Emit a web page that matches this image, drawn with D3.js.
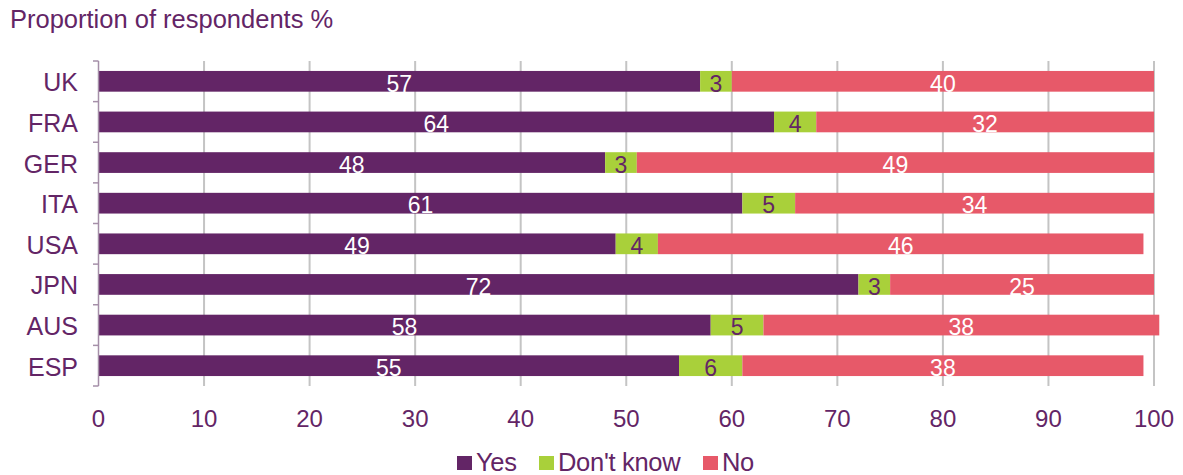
<!DOCTYPE html>
<html>
<head>
<meta charset="utf-8">
<script src="https://cdn.jsdelivr.net/npm/d3@7"></script>
<style>
  body { margin: 0; background: #fff; }
  svg text { font-family: "Liberation Sans", Arial, sans-serif; }
</style>
</head>
<body>
<svg id="chart"></svg>
<script>
// chart data
var countries = ["UK", "FRA", "GER", "ITA", "USA", "JPN", "AUS", "ESP"];
var yes = [57, 64, 48, 61, 49, 72, 58, 55];
var dontKnow = [3, 4, 3, 5, 4, 3, 5, 6];
var no = [40, 32, 49, 34, 46, 25, 37.5, 38];
var xTicks = [0, 10, 20, 30, 40, 50, 60, 70, 80, 90, 100];
var seriesNames = ["Yes", "Don't know", "No"];

var width = 1183, height = 475;
var purple = "#632566", green = "#a9d03a", red = "#e75969";
var colors = [purple, green, red];
var labelColors = ["#fff", purple, "#fff"];
var textColor = "#632566";

var svg = d3.select("#chart").attr("width", width).attr("height", height);

var x = d3.scaleLinear().domain([0, 100]).range([98.5, 1154]);
var y = d3.scaleBand().domain(countries).range([61, 386]).paddingInner(0.49).paddingOuter(0.245);

// title
svg.append("text")
    .attr("x", 10).attr("y", 28)
    .attr("fill", textColor)
    .style("font-size", "25.5px")
    .text("Proportion of respondents %");

// grid lines
svg.append("g").selectAll("line")
    .data(xTicks.filter(function (d) { return d > 0; }))
    .enter().append("line")
    .attr("x1", function (d) { return x(d); })
    .attr("x2", function (d) { return x(d); })
    .attr("y1", 61).attr("y2", 386)
    .attr("stroke", "#c4c4c4")
    .attr("stroke-width", 2);

// stacked data
var rows = countries.map(function (c, i) {
    var vals = [yes[i], dontKnow[i], no[i]];
    var start = 0;
    return vals.map(function (v, k) {
        var seg = { country: c, k: k, v: v, x0: start, x1: start + v };
        start += v;
        return seg;
    });
});
var segs = [].concat.apply([], rows);

svg.append("g").selectAll("rect")
    .data(segs)
    .enter().append("rect")
    .attr("x", function (d) { return x(d.x0); })
    .attr("y", function (d) { return y(d.country); })
    .attr("width", function (d) { return x(d.x1) - x(d.x0); })
    .attr("height", y.bandwidth())
    .attr("fill", function (d) { return colors[d.k]; });

svg.append("g").selectAll("text")
    .data(segs)
    .enter().append("text")
    .attr("x", function (d) { return x((d.x0 + d.x1) / 2); })
    .attr("y", function (d) { return y(d.country) + y.bandwidth() / 2 + 2; })
    .attr("dy", "0.36em")
    .attr("text-anchor", "middle")
    .attr("fill", function (d) { return labelColors[d.k]; })
    .style("font-size", "23px")
    .text(function (d) { return Math.round(d.v); });

// left axis with ticks on band boundaries
var axisColor = "#a58fa8";
var leftG = svg.append("g");
leftG.append("line")
    .attr("x1", 98.5).attr("x2", 98.5).attr("y1", 61).attr("y2", 386)
    .attr("stroke", axisColor).attr("stroke-width", 1.5);
var bounds = d3.range(countries.length + 1).map(function (i) { return 61 + i * y.step(); });
leftG.selectAll("line.tick")
    .data(bounds)
    .enter().append("line")
    .attr("class", "tick")
    .attr("x1", 93).attr("x2", 98.5)
    .attr("y1", function (d) { return d; })
    .attr("y2", function (d) { return d; })
    .attr("stroke", axisColor).attr("stroke-width", 1.5);
leftG.selectAll("text")
    .data(countries)
    .enter().append("text")
    .attr("x", 78)
    .attr("y", function (d) { return y(d) + y.bandwidth() / 2 + 1; })
    .attr("dy", "0.36em")
    .attr("text-anchor", "end")
    .attr("fill", textColor)
    .style("font-size", "25px")
    .text(function (d) { return d; });

// bottom tick labels
svg.append("g").selectAll("text")
    .data(xTicks)
    .enter().append("text")
    .attr("x", function (d) { return x(d); })
    .attr("y", 418)
    .attr("dy", "0.36em")
    .attr("text-anchor", "middle")
    .attr("fill", textColor)
    .style("font-size", "24px")
    .text(function (d) { return d; });

// legend
var legendX = [457, 539, 703];
var legend = svg.append("g").selectAll("g")
    .data(seriesNames)
    .enter().append("g")
    .attr("transform", function (d, i) { return "translate(" + legendX[i] + ",456)"; });
legend.append("rect")
    .attr("width", 15).attr("height", 14)
    .attr("fill", function (d, i) { return colors[i]; });
legend.append("text")
    .attr("x", 19).attr("y", 6)
    .attr("dy", "0.36em")
    .attr("fill", textColor)
    .style("font-size", "25.5px")
    .style("letter-spacing", "-0.3px")
    .text(function (d) { return d; });
</script>
</body>
</html>
